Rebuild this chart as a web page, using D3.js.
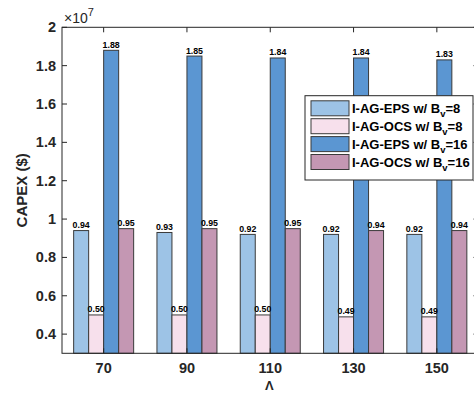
<!DOCTYPE html>
<html>
<head>
<meta charset="utf-8">
<script src="https://cdn.jsdelivr.net/npm/d3@7"></script>
<style>
  html, body { margin: 0; padding: 0; background: #fff; }
  svg { display: block; font-family: "Liberation Sans", Arial, sans-serif; }
</style>
</head>
<body>
<svg id="chart" width="474" height="393"></svg>
<script>
// Traffic load values (x axis, Λ)
const categories = ["70", "90", "110", "130", "150"];

// CAPEX per scheme, in units of 10^7 $
const seriesNames = ["I-AG-EPS w/ B_v=8", "I-AG-OCS w/ B_v=8", "I-AG-EPS w/ B_v=16", "I-AG-OCS w/ B_v=16"];
const epsBv8  = [0.94, 0.93, 0.92, 0.92, 0.92];
const ocsBv8  = [0.50, 0.50, 0.50, 0.49, 0.49];
const epsBv16 = [1.88, 1.85, 1.84, 1.84, 1.83];
const ocsBv16 = [0.95, 0.95, 0.95, 0.94, 0.94];
const seriesValues = [epsBv8, ocsBv8, epsBv16, ocsBv16];

const yTicks = [0.4, 0.6, 0.8, 1, 1.2, 1.4, 1.6, 1.8, 2];

const colors = ["#9dc3e6", "#f7e0ec", "#5b96d2", "#c497b3"];
const edge = "#3a3a3a";
const axisColor = "#262626";

const svg = d3.select("#chart");

const plot = { left: 62, right: 478.5, top: 27.3, bottom: 353.3 };

const x = d3.scaleBand().domain(categories).range([plot.left, plot.right]).padding(0);
const xSub = d3.scaleBand().domain(d3.range(seriesNames.length)).range([-30, 30]).padding(0);
const y = d3.scaleLinear().domain([0.3, 2]).range([plot.bottom, plot.top]);

// Bars
const rows = [];
categories.forEach((c, i) => {
  seriesValues.forEach((vals, s) => rows.push({ cat: c, s, v: vals[i] }));
});

const gBars = svg.append("g");
gBars.selectAll("rect")
  .data(rows)
  .join("rect")
  .attr("x", d => x(d.cat) + x.bandwidth() / 2 + xSub(d.s))
  .attr("y", d => y(d.v))
  .attr("width", xSub.bandwidth())
  .attr("height", d => y(0.3) - y(d.v))
  .attr("fill", d => colors[d.s])
  .attr("stroke", edge)
  .attr("stroke-width", 1);

// Value labels
gBars.selectAll("text")
  .data(rows)
  .join("text")
  .attr("x", d => x(d.cat) + x.bandwidth() / 2 + xSub(d.s) + xSub.bandwidth() / 2)
  .attr("y", d => y(d.v) - 2.5)
  .attr("text-anchor", "middle")
  .attr("font-size", 8.8)
  .attr("font-weight", "bold")
  .attr("fill", "#000")
  .text(d => d.v.toFixed(2));

// Box axes with inward ticks
const tickLen = 5;
const axes = svg.append("g").attr("stroke", axisColor).attr("stroke-width", 1).attr("fill", "none");
axes.append("rect")
  .attr("x", plot.left).attr("y", plot.top)
  .attr("width", plot.right - plot.left).attr("height", plot.bottom - plot.top);

categories.forEach(c => {
  const cx = x(c) + x.bandwidth() / 2;
  axes.append("line").attr("x1", cx).attr("x2", cx).attr("y1", plot.bottom).attr("y2", plot.bottom - tickLen);
  axes.append("line").attr("x1", cx).attr("x2", cx).attr("y1", plot.top).attr("y2", plot.top + tickLen);
});
yTicks.forEach(t => {
  axes.append("line").attr("x1", plot.left).attr("x2", plot.left + tickLen).attr("y1", y(t)).attr("y2", y(t));
  axes.append("line").attr("x1", plot.right).attr("x2", plot.right - tickLen).attr("y1", y(t)).attr("y2", y(t));
});

// Tick labels
svg.append("g").selectAll("text")
  .data(categories)
  .join("text")
  .attr("x", d => x(d) + x.bandwidth() / 2)
  .attr("y", 373)
  .attr("text-anchor", "middle")
  .attr("font-size", 14.5)
  .attr("font-weight", "bold")
  .attr("fill", axisColor)
  .text(d => d);

svg.append("g").selectAll("text")
  .data(yTicks)
  .join("text")
  .attr("x", 56)
  .attr("y", d => y(d) + 5)
  .attr("text-anchor", "end")
  .attr("font-size", 14.5)
  .attr("font-weight", "bold")
  .attr("fill", axisColor)
  .text(d => d3.format("~g")(d));

// Exponent marker
const expo = svg.append("text")
  .attr("x", 64).attr("y", 23)
  .attr("font-size", 14)
  .attr("fill", axisColor);
expo.append("tspan").text("\u00d710");
expo.append("tspan").attr("dy", -7).attr("font-size", 11).text("7");

// Axis titles
svg.append("text")
  .attr("transform", `translate(27,${(plot.top + plot.bottom) / 2}) rotate(-90)`)
  .attr("text-anchor", "middle")
  .attr("font-size", 15)
  .attr("font-weight", "bold")
  .attr("fill", axisColor)
  .text("CAPEX ($)");

svg.append("text")
  .attr("x", (plot.left + plot.right) / 2 - 1)
  .attr("y", 389.5)
  .attr("text-anchor", "middle")
  .attr("font-size", 13)
  .attr("font-weight", "bold")
  .attr("fill", axisColor)
  .text("\u039b");

// Legend
const legend = svg.append("g");
legend.append("rect")
  .attr("x", 305).attr("y", 95.7)
  .attr("width", 168).attr("height", 84.3)
  .attr("fill", "#fff")
  .attr("stroke", axisColor)
  .attr("stroke-width", 1);

seriesNames.forEach((name, i) => {
  const cy = 108.3 + i * 17.9;
  legend.append("rect")
    .attr("x", 311).attr("y", cy - 7.5)
    .attr("width", 38).attr("height", 15)
    .attr("fill", colors[i])
    .attr("stroke", edge)
    .attr("stroke-width", 1);
  const [base, rest] = name.split("_");
  const t = legend.append("text")
    .attr("x", 352).attr("y", cy + 4.5)
    .attr("font-size", 13)
    .attr("font-weight", "bold")
    .attr("fill", "#000");
  t.append("tspan").text(base);
  t.append("tspan").attr("dy", 4).attr("font-size", 9.5).text(rest.charAt(0));
  t.append("tspan").attr("dy", -4).text(rest.slice(1));
});
</script>
</body>
</html>
